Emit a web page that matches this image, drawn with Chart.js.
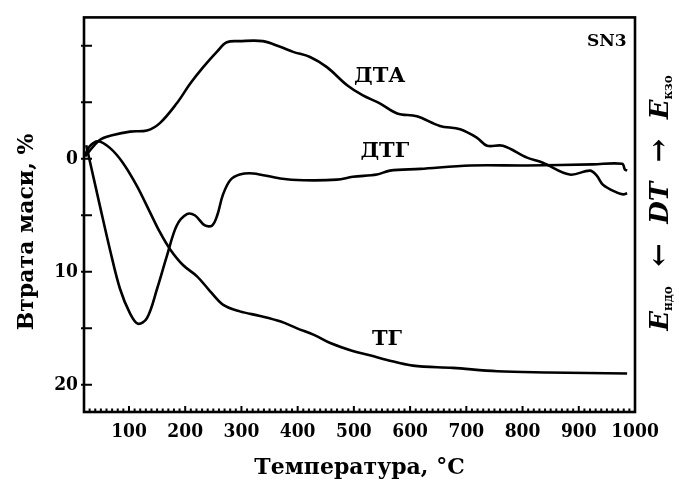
<!DOCTYPE html>
<html>
<head>
<meta charset="utf-8">
<script src="https://cdn.jsdelivr.net/npm/chart.js@4.4.0/dist/chart.umd.min.js"></script>
<style>
  html, body { margin: 0; padding: 0; background: #fff; }
</style>
</head>
<body>
<canvas id="chart" width="679" height="486"></canvas>
<script>
// ТГ - втрата маси
const tgTemp = [22, 30, 45, 66, 89, 114, 137, 155, 173, 196, 221, 244, 267, 297, 333, 370, 399, 430, 458, 498, 530, 559, 605, 676, 755, 844, 986];
const tgLoss = [-0.3, -1.1, -1.55, -0.96, 0.35, 2.4, 4.7, 6.5, 8.0, 9.4, 10.4, 11.7, 12.9, 13.5, 13.9, 14.4, 15.0, 15.6, 16.3, 17.0, 17.4, 17.8, 18.3, 18.5, 18.8, 18.9, 19.0];

// ДТГ
const dtgTemp = [24, 31, 48, 66, 84, 102, 116, 132, 150, 168, 185, 203, 217, 235, 248, 257, 267, 280, 297, 321, 369, 410, 470, 498, 541, 564, 618, 707, 808, 925, 977, 982, 986];
const dtgVal = [-1.2, 0.35, 4.1, 8.0, 11.5, 13.7, 14.6, 14.1, 11.5, 8.5, 5.9, 4.9, 5.0, 5.9, 5.9, 5.0, 3.2, 1.9, 1.4, 1.3, 1.75, 1.9, 1.85, 1.6, 1.4, 1.05, 0.9, 0.6, 0.6, 0.5, 0.45, 0.95, 1.05];

// ДТА
const dtaTemp = [22, 48, 72, 102, 132, 155, 185, 209, 232, 257, 274, 297, 338, 369, 392, 422, 452, 488, 516, 546, 577, 612, 653, 689, 719, 737, 765, 808, 836, 884, 920, 932, 943, 968, 979, 986];
const dtaVal = [-0.2, -1.66, -2.1, -2.4, -2.5, -3.15, -4.9, -6.65, -8.1, -9.5, -10.3, -10.4, -10.4, -9.9, -9.45, -9.0, -8.1, -6.5, -5.6, -4.9, -4.0, -3.75, -2.9, -2.6, -1.85, -1.15, -1.15, -0.1, 0.35, 1.4, 1.05, 1.5, 2.3, 3.0, 3.15, 3.05];

const xTickLabels = [100, 200, 300, 400, 500, 600, 700, 800, 900, 1000];
const yTickLabels = [0, 10, 20];
const yMajorTicks = [-10, -5, 0, 5, 10, 15, 20];

const tickFamily = '"DejaVu Serif Condensed", "DejaVu Serif", serif';
const labelFont = 'bold 21px "DejaVu Serif", serif';

function toPoints(xs, ys) {
    return xs.map((x, i) => ({ x: x, y: ys[i] }));
}

function lineSet(label, xs, ys) {
    return {
        label: label,
        data: toPoints(xs, ys),
        borderColor: '#000',
        borderWidth: 2.6,
        pointRadius: 0,
        fill: false,
        tension: 0.35
    };
}

const framePlugin = {
    id: 'frame',
    afterDraw(chart) {
        const ctx = chart.ctx;
        const a = chart.chartArea;
        const x = chart.scales.x;
        const y = chart.scales.y;
        ctx.save();
        ctx.strokeStyle = '#000';
        ctx.fillStyle = '#000';
        ctx.lineWidth = 2.6;
        ctx.strokeRect(a.left, a.top, a.right - a.left, a.bottom - a.top);

        ctx.lineWidth = 2;
        ctx.beginPath();
        yMajorTicks.forEach(v => {
            const py = y.getPixelForValue(v);
            ctx.moveTo(a.left - 3, py);
            ctx.lineTo(a.left + 8, py);
        });
        for (let t = 30; t < 1000; t += 10) {
            const px = x.getPixelForValue(t);
            const len = t % 100 === 0 ? 6 : 3.5;
            ctx.moveTo(px, a.bottom);
            ctx.lineTo(px, a.bottom - len);
        }
        ctx.stroke();

        // підписи кривих
        ctx.font = labelFont;
        ctx.textAlign = 'center';
        ctx.textBaseline = 'middle';
        ctx.fillText('ДТА', x.getPixelForValue(546), y.getPixelForValue(-7.3));
        ctx.fillText('ДТГ', x.getPixelForValue(555), y.getPixelForValue(-0.6));
        ctx.fillText('ТГ', x.getPixelForValue(559), y.getPixelForValue(16.0));
        ctx.font = 'bold 17px "DejaVu Serif", serif';
        ctx.textAlign = 'right';
        ctx.fillText('SN3', x.getPixelForValue(985), y.getPixelForValue(-10.4));

        // назви осей
        ctx.font = 'bold 22px "DejaVu Serif", serif';
        ctx.textAlign = 'center';
        ctx.fillText('Температура, °C', (a.left + a.right) / 2, 468);
        ctx.save();
        ctx.translate(27, 232);
        ctx.rotate(-Math.PI / 2);
        ctx.fillText('Втрата маси, %', 0, 0);
        ctx.restore();

        // права вісь
        ctx.save();
        ctx.translate(661, 203);
        ctx.rotate(-Math.PI / 2);
        const big = 'bold italic 26px "DejaVu Serif", serif';
        const small = 'bold 12px "DejaVu Serif", serif';
        const arrow = 'bold 28px "DejaVu Serif", serif';
        const parts = [
            [big, 'E', 0], [small, 'ндо', 8], [arrow, '  ←  ', 0], [big, 'DT', 0],
            [arrow, '  →  ', 0], [big, 'E', 0], [small, 'кзо', 8]
        ];
        let total = 0;
        parts.forEach(p => { ctx.font = p[0]; total += ctx.measureText(p[1]).width; });
        let cx = -total / 2;
        ctx.textAlign = 'left';
        ctx.textBaseline = 'middle';
        parts.forEach(p => {
            ctx.font = p[0];
            ctx.fillText(p[1], cx, p[2]);
            cx += ctx.measureText(p[1]).width;
        });
        ctx.restore();
        ctx.restore();
    }
};

new Chart(document.getElementById('chart'), {
    type: 'line',
    data: {
        datasets: [
            lineSet('ДТА', dtaTemp, dtaVal),
            lineSet('ДТГ', dtgTemp, dtgVal),
            lineSet('ТГ', tgTemp, tgLoss)
        ]
    },
    options: {
        responsive: false,
        animation: false,
        layout: { padding: { left: 0, right: 44, top: 13, bottom: 0 } },
        plugins: { legend: { display: false }, tooltip: { enabled: false } },
        scales: {
            x: {
                type: 'linear',
                min: 20,
                max: 1000,
                afterBuildTicks: s => { s.ticks = xTickLabels.map(v => ({ value: v })); },
                afterFit: s => { s.height = 74; },
                grid: { display: false, drawTicks: false },
                border: { display: false },
                ticks: {
                    autoSkip: false,
                    maxRotation: 0,
                    padding: 9,
                    color: '#000',
                    callback: v => String(v),
                    font: { family: tickFamily, size: 19, weight: 'bold' }
                }
            },
            y: {
                type: 'linear',
                reverse: true,
                min: -12.5,
                max: 22.4,
                afterBuildTicks: s => { s.ticks = yTickLabels.map(v => ({ value: v })); },
                afterFit: s => { s.width = 84; },
                grid: { display: false, drawTicks: false },
                border: { display: false },
                ticks: {
                    padding: 6,
                    color: '#000',
                    callback: v => String(v),
                    font: { family: tickFamily, size: 19, weight: 'bold' }
                }
            }
        }
    },
    plugins: [framePlugin]
});
</script>
</body>
</html>
